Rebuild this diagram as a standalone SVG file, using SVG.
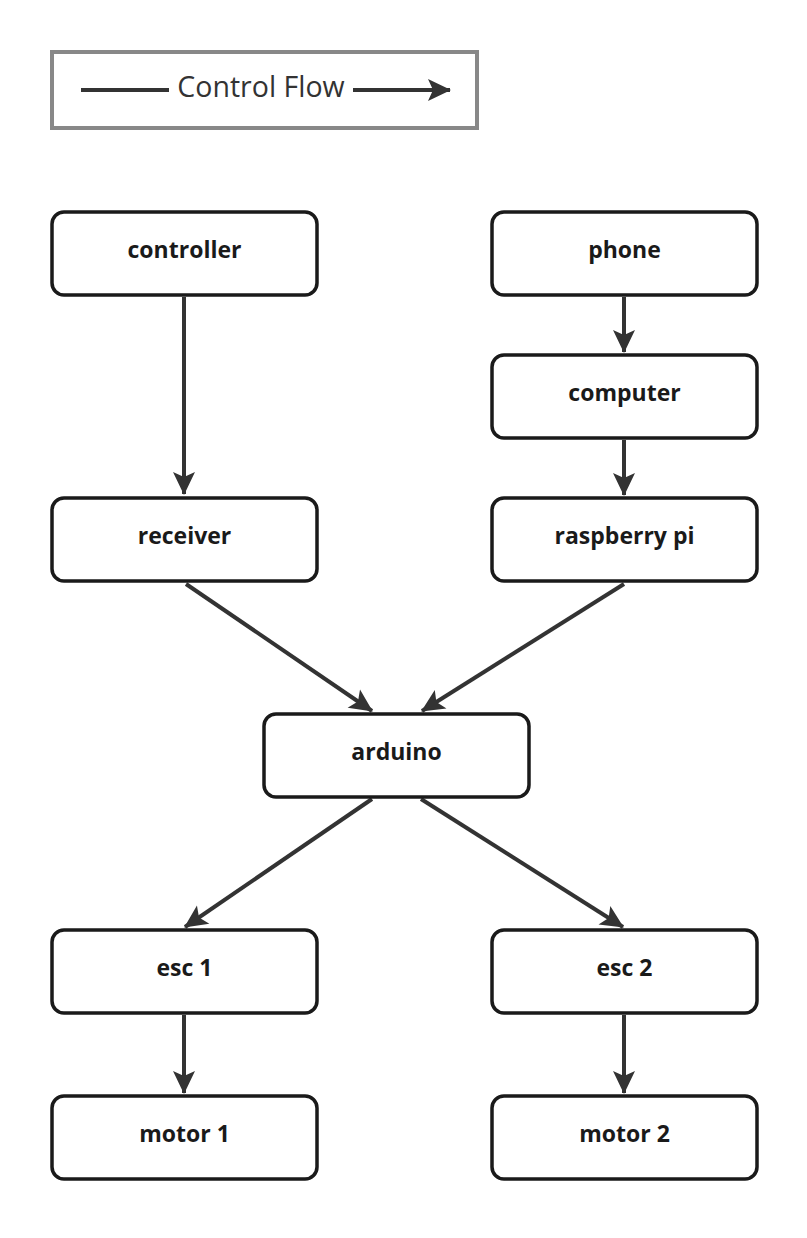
<svg xmlns="http://www.w3.org/2000/svg" width="807" height="1238" viewBox="0 0 807 1238">
<style>
.node rect{fill:#fff;stroke:#1a1a1a;stroke-width:3.5}
.node text{font-family:"Open Sans","Noto Sans",sans-serif;font-weight:bold;font-size:23px;fill:#1a1a1a;text-anchor:middle}
.conn line{stroke:#333;stroke-width:4;fill:none}
</style>
<defs>
<marker id="ah" markerUnits="userSpaceOnUse" markerWidth="26" markerHeight="26" viewBox="-24 -13 26 26" refX="0" refY="0" orient="auto">
<path d="M1,0 L-22,-11 L-17,0 L-22,11 Z" fill="#333"/>
</marker>
</defs>
<rect x="52" y="52" width="425" height="76" fill="#fff" stroke="#888" stroke-width="4"/>
<g class="conn">
<line x1="81" y1="90" x2="169" y2="90"/>
<line x1="353" y1="90" x2="450" y2="90" marker-end="url(#ah)"/>
</g>
<text x="261" y="97" font-family="'Open Sans','Noto Sans',sans-serif" font-size="28.5" fill="#333" text-anchor="middle">Control Flow</text>
<g class="conn">
<line x1="184" y1="297" x2="184" y2="494" marker-end="url(#ah)"/>
<line x1="624" y1="297" x2="624" y2="352" marker-end="url(#ah)"/>
<line x1="624" y1="440" x2="624" y2="495" marker-end="url(#ah)"/>
<line x1="186" y1="584" x2="372" y2="711" marker-end="url(#ah)"/>
<line x1="624" y1="584" x2="422" y2="711" marker-end="url(#ah)"/>
<line x1="372" y1="799" x2="185" y2="927" marker-end="url(#ah)"/>
<line x1="421" y1="799" x2="623" y2="927" marker-end="url(#ah)"/>
<line x1="184" y1="1015" x2="184" y2="1093" marker-end="url(#ah)"/>
<line x1="624" y1="1015" x2="624" y2="1093" marker-end="url(#ah)"/>
</g>
<g id="controller" class="node"><rect x="52" y="212" width="265" height="83" rx="12"/><text x="184.5" y="258">controller</text></g>
<g id="phone" class="node"><rect x="492" y="212" width="265" height="83" rx="12"/><text x="624.5" y="258">phone</text></g>
<g id="computer" class="node"><rect x="492" y="355" width="265" height="83" rx="12"/><text x="624.5" y="401">computer</text></g>
<g id="receiver" class="node"><rect x="52" y="498" width="265" height="83" rx="12"/><text x="184.5" y="544">receiver</text></g>
<g id="raspberry" class="node"><rect x="492" y="498" width="265" height="83" rx="12"/><text x="624.5" y="544">raspberry pi</text></g>
<g id="arduino" class="node"><rect x="264" y="714" width="265" height="83" rx="12"/><text x="396.5" y="760">arduino</text></g>
<g id="esc1" class="node"><rect x="52" y="930" width="265" height="83" rx="12"/><text x="184.5" y="976">esc 1</text></g>
<g id="esc2" class="node"><rect x="492" y="930" width="265" height="83" rx="12"/><text x="624.5" y="976">esc 2</text></g>
<g id="motor1" class="node"><rect x="52" y="1096" width="265" height="83" rx="12"/><text x="184.5" y="1142">motor 1</text></g>
<g id="motor2" class="node"><rect x="492" y="1096" width="265" height="83" rx="12"/><text x="624.5" y="1142">motor 2</text></g>
</svg>
